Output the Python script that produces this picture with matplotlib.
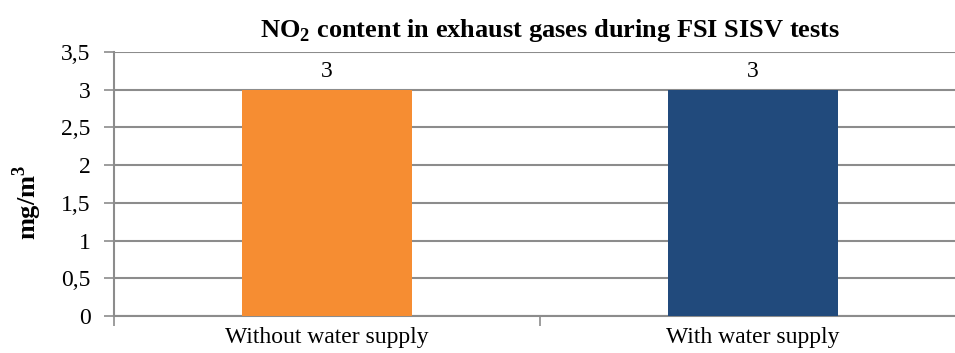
import matplotlib.pyplot as plt
import numpy as np

categories = ["Without water supply", "With water supply"]
values = [3, 3]
bar_colors = ["#F68D32", "#214A7C"]

plt.rcParams['font.family'] = ['Liberation Serif', 'DejaVu Serif']
plt.rcParams['mathtext.fontset'] = 'custom'
plt.rcParams['mathtext.rm'] = 'Liberation Serif'
plt.rcParams['mathtext.bf'] = 'Liberation Serif:bold'

fig = plt.figure(figsize=(9.55, 3.53), dpi=100)
# axes extends slightly past the right edge, as in the original
ax = fig.add_axes([114 / 955, 1 - 316 / 353, 852 / 955, 264 / 353])

x = np.arange(len(categories))
ax.bar(x, values, width=0.4, color=bar_colors, zorder=3)
for xi, v in zip(x, values):
    ax.text(xi, v + 0.1, f"{v:g}", ha='center', va='bottom', fontsize=17)

ax.set_xlim(-0.5, len(categories) - 0.5)
ax.set_ylim(0, 3.5)
yt = np.arange(0, 3.51, 0.5)
ax.set_yticks(yt)
ax.set_yticklabels([f"{t:g}".replace('.', ',') for t in yt], fontsize=17)
ax.yaxis.grid(True, color='#8C8C8C', linewidth=1.5, zorder=0)

ax.set_xticks(x)
ax.set_xticklabels(categories, fontsize=17)
ax.set_xticks([-0.5, 0.5, 1.5], minor=True)
ax.tick_params(axis='x', which='major', length=0, pad=8)
ax.tick_params(axis='x', which='minor', length=7, color='#8C8C8C', width=1.2)
ax.tick_params(axis='y', length=7, color='#8C8C8C', width=1.2, pad=10)

for s in ['top', 'right']:
    ax.spines[s].set_visible(False)
for s in ['left', 'bottom']:
    ax.spines[s].set_color('#8C8C8C')
    ax.spines[s].set_linewidth(1.5)

ax.set_ylabel(r"mg/m$^\mathbf{3}$", fontsize=19, fontweight='bold')
ax.yaxis.set_label_coords((44 - 114) / 852, (316 - 202) / 264)
fig.text(550 / 955, 1 - 30 / 353, r"NO$_\mathbf{2}$ content in exhaust gases during FSI SISV tests",
         ha='center', va='center', fontsize=19, fontweight='bold')

fig.savefig("out.png", dpi=100)
